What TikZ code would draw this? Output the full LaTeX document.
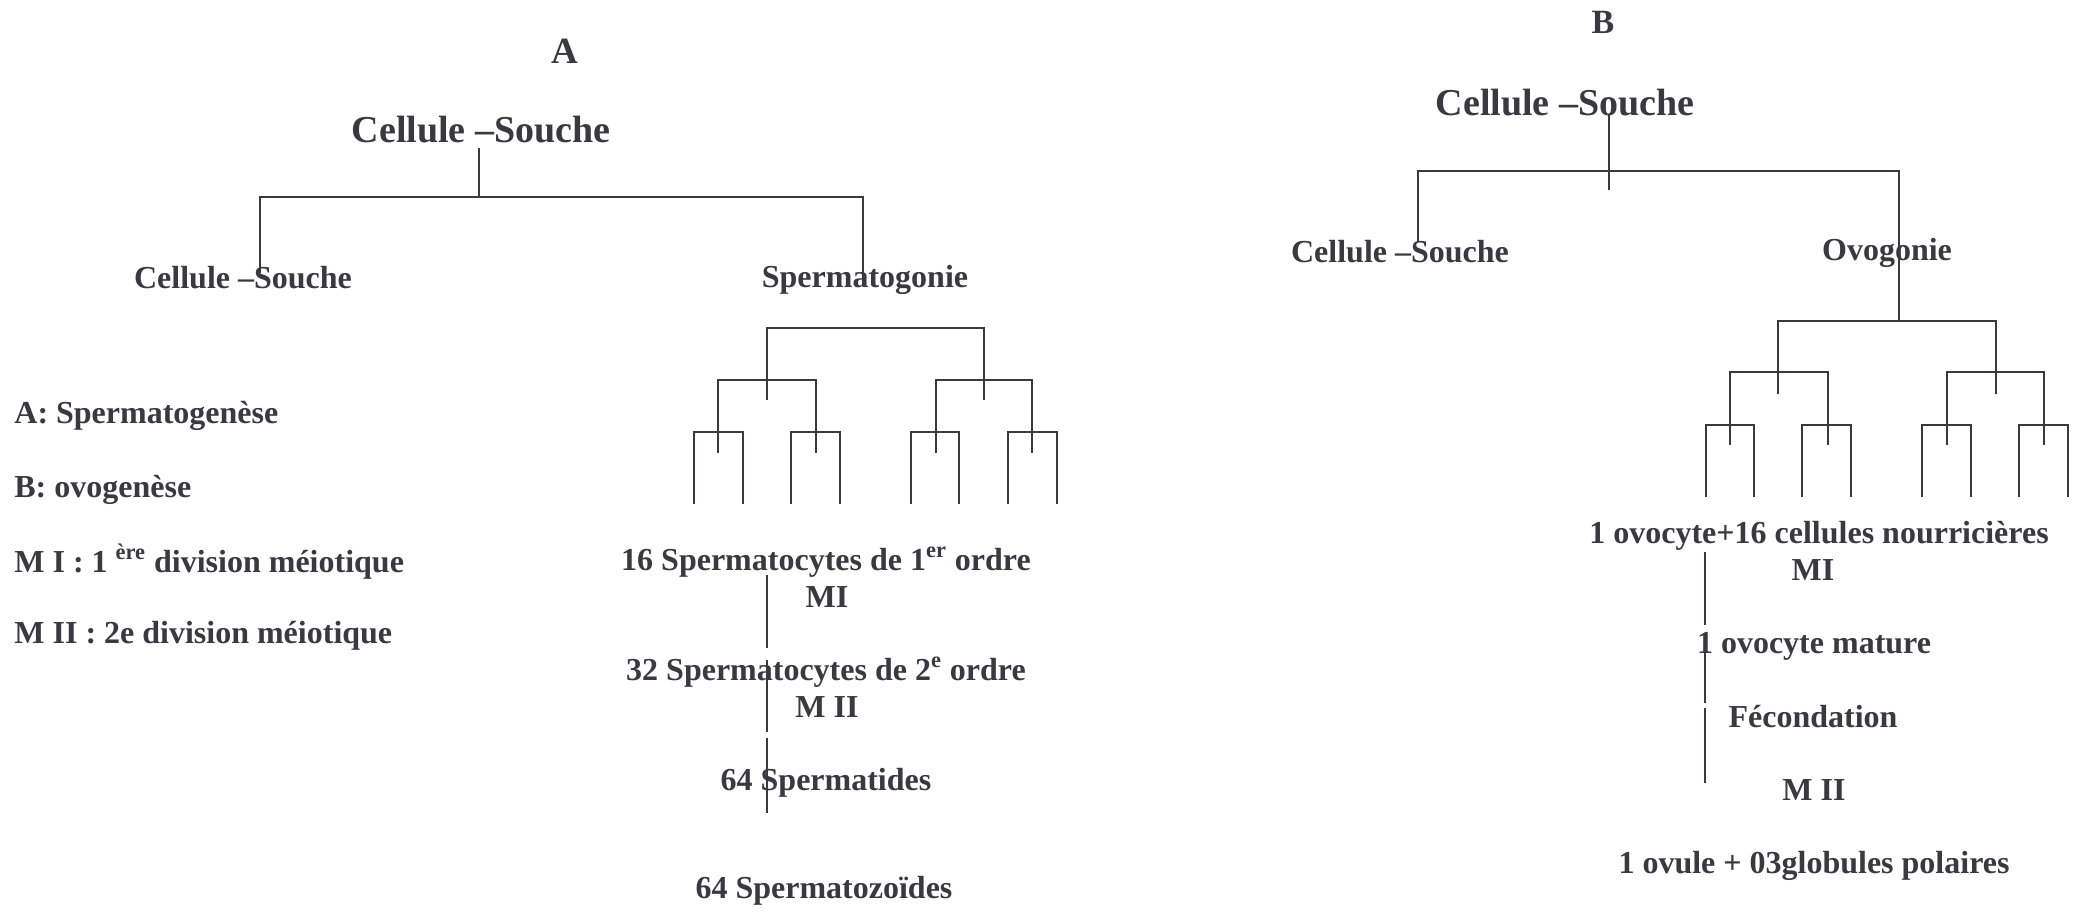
\documentclass[tikz,border=0pt]{standalone}
\usepackage{fontspec}
\setmainfont{Liberation Serif}
\definecolor{ink}{RGB}{58,56,64}
\begin{document}
\begin{tikzpicture}[x=0.5pt,y=-0.5pt,
  lbl/.style={anchor=base, inner sep=0pt, text=ink, font=\fontsize{16}{19}\selectfont\bfseries},
  big/.style={lbl, font=\fontsize{19}{22}\selectfont\bfseries},
  legend/.style={lbl, anchor=base west},
  wire/.style={draw=ink, line width=1.2pt, line join=miter}]

% canvas
\fill[white] (0,0) rectangle (2076,912);
\useasboundingbox (0,0) rectangle (2076,912);

% ---------------- Panel A : spermatogenesis ----------------
\node[big, font=\fontsize{18.5}{22}\selectfont\bfseries] (titleA) at (565,63) {A};
\node[big] (rootA) at (481,142) {Cellule –Souche};
\node[lbl] (stemA) at (243,288) {Cellule –Souche};
\node[lbl] (spg) at (865,287) {Spermatogonie};

\coordinate (aTop) at (479,148);
\coordinate (aMid) at (479,197);
\coordinate (aL) at (260,197);
\coordinate (aR) at (863,197);
\coordinate (aLend) at (260,273);
\coordinate (aRend) at (863,273);
\draw[wire] (aTop) -- (aMid);
\draw[wire] (aLend) -- (aL) -- (aR) -- (aRend);

% binary divisions under the spermatogonium
\foreach \l/\y/\r/\b in {767/328/984/400,
                         718/380/816/453, 936/380/1032/453,
                         694/432/743/504, 791/432/840/504,
                         911/432/959/504, 1008/432/1057/504}
  \draw[wire] (\l,\b) -- (\l,\y) -- (\r,\y) -- (\r,\b);

\node[lbl] (spc1) at (826,570) {16 Spermatocytes de 1\textsuperscript{er} ordre};
\node[lbl] (mIa) at (827,607) {MI};
\node[lbl] (spc2) at (826,680) {32 Spermatocytes de 2\textsuperscript{e} ordre};
\node[lbl] (mIIa) at (827,717) {M II};
\node[lbl] (spt) at (826,790) {64 Spermatides};
\node[lbl] (spz) at (824,898) {64 Spermatozoïdes};

\coordinate (ca1) at (767,575); \coordinate (ca2) at (767,648);
\coordinate (ca3) at (767,660); \coordinate (ca4) at (767,732);
\coordinate (ca5) at (767,738); \coordinate (ca6) at (767,813);
\draw[wire] (ca1) -- (ca2);
\draw[wire] (ca3) -- (ca4);
\draw[wire] (ca5) -- (ca6);

% legend
\node[legend] (legA) at (14,423) {A: Spermatogenèse};
\node[legend] (legB) at (14,497) {B: ovogenèse};
\node[legend] (legMI) at (14,572) {M I : 1 \textsuperscript{ère} division méiotique};
\node[legend] (legMII) at (14,643) {M II : 2e division méiotique};

% ---------------- Panel B : oogenesis ----------------
\node[big, font=\fontsize{17}{20}\selectfont\bfseries] (titleB) at (1603,33) {B};
\node[big] (rootB) at (1565,115) {Cellule –Souche};
\node[lbl] (stemB) at (1400,262) {Cellule –Souche};
\node[lbl] (ovg) at (1887,260) {Ovogonie};

\coordinate (bTop) at (1609,115);
\coordinate (bLow) at (1609,190);
\coordinate (bL) at (1418,171);
\coordinate (bR) at (1899,171);
\coordinate (bLend) at (1418,242);
\coordinate (bFork) at (1899,321);
\draw[wire] (bTop) -- (bLow);
\draw[wire] (bLend) -- (bL) -- (bR) -- (bFork);

\foreach \l/\y/\r/\b in {1778/321/1996/394,
                         1730/372/1828/445, 1947/372/2044/445,
                         1706/425/1754/497, 1802/425/1851/497,
                         1922/425/1971/497, 2019/425/2068/497}
  \draw[wire] (\l,\b) -- (\l,\y) -- (\r,\y) -- (\r,\b);

\node[lbl] (ovc) at (1819,543) {1 ovocyte+16 cellules nourricières};
\node[lbl] (mIb) at (1813,580) {MI};
\node[lbl] (ovm) at (1814,653) {1 ovocyte mature};
\node[lbl] (fec) at (1813,727) {Fécondation};
\node[lbl] (mIIb) at (1814,800) {M II};
\node[lbl] (ovl) at (1814,873) {1 ovule + 03globules polaires};

\coordinate (cb1) at (1705,552); \coordinate (cb2) at (1705,625);
\coordinate (cb3) at (1705,635); \coordinate (cb4) at (1705,703);
\coordinate (cb5) at (1705,708); \coordinate (cb6) at (1705,783);
\draw[wire] (cb1) -- (cb2);
\draw[wire] (cb3) -- (cb4);
\draw[wire] (cb5) -- (cb6);
\end{tikzpicture}
\end{document}
